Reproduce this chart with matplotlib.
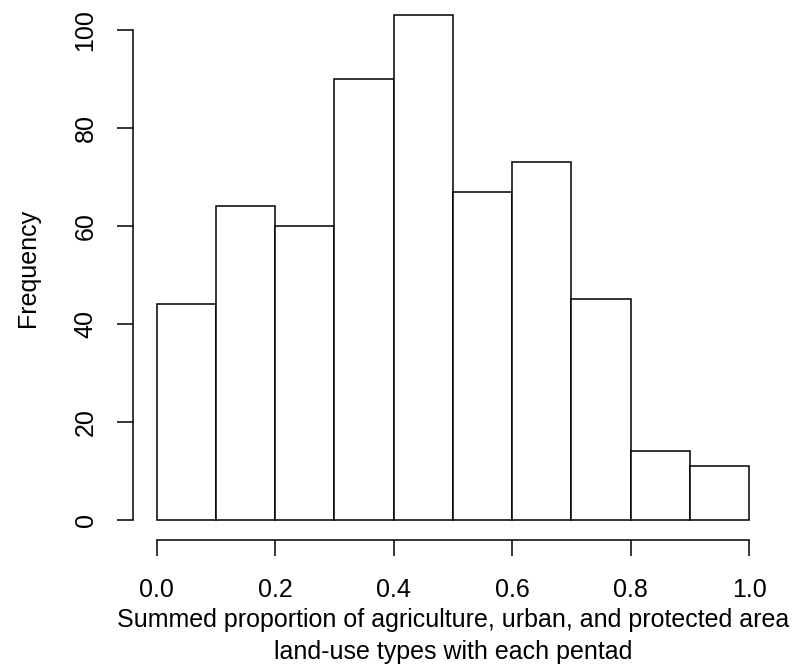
import matplotlib.pyplot as plt

plt.rcParams['font.family'] = ['Liberation Sans', 'DejaVu Sans']

# histogram breaks and counts
breaks = [0.0, 0.1, 0.2, 0.3, 0.4, 0.5, 0.6, 0.7, 0.8, 0.9, 1.0]
counts = [44, 64, 60, 90, 103, 67, 73, 45, 14, 11]
xticks = [0.0, 0.2, 0.4, 0.6, 0.8, 1.0]
xticklabels = ['0.0', '0.2', '0.4', '0.6', '0.8', '1.0']
yticks = [0, 20, 40, 60, 80, 100]

W, H = 794, 668
fig = plt.figure(figsize=(W / 100, H / 100), dpi=100)
left, right, bottom, top = 133, 772.7, 540, -4.8
ax = fig.add_axes([left / W, 1 - bottom / H, (right - left) / W, (bottom - top) / H])

lefts = breaks[:-1]
widths = [breaks[i + 1] - breaks[i] for i in range(len(counts))]
ax.bar(lefts, counts, width=widths, align='edge', color='white',
       edgecolor='black', linewidth=1.1)

ax.set_xlim(-0.04, 1.04)
ax.set_ylim(-4.12, 107.12)

for s in ['top', 'right']:
    ax.spines[s].set_visible(False)
ax.spines['left'].set_bounds(0, 100)
ax.spines['bottom'].set_bounds(0, 1)
for s in ['left', 'bottom']:
    ax.spines[s].set_linewidth(1.1)

ax.set_xticks(xticks)
ax.set_xticklabels(xticklabels)
ax.set_yticks(yticks)
ax.set_yticklabels([str(v) for v in yticks], rotation=90, va='center')
ax.tick_params(length=11.5, width=1.1, labelsize=18)
ax.tick_params(axis='x', pad=16)
ax.tick_params(axis='y', pad=14)

ax.set_ylabel('Frequency', fontsize=18, labelpad=24)
ax.set_xlabel('Summed proportion of agriculture, urban, and protected area\n'
              'land-use types with each pentad', fontsize=18, labelpad=4,
              linespacing=1.45)

fig.savefig('out.png', dpi=100)
